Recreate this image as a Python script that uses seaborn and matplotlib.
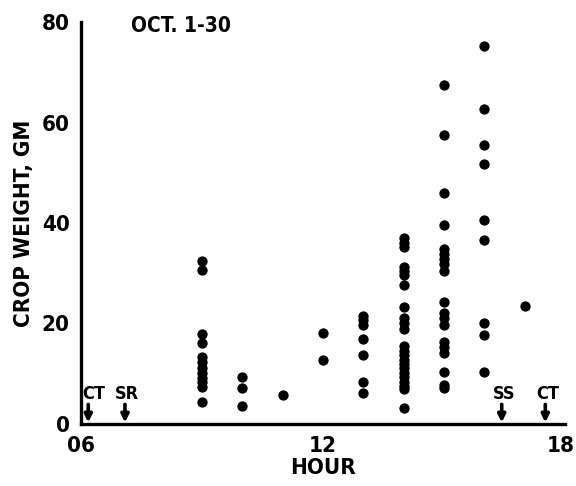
import matplotlib
matplotlib.use("Agg")
import matplotlib.pyplot as plt
from matplotlib import font_manager
from matplotlib.transforms import ScaledTranslation
import numpy as np
import pandas as pd
import seaborn as sns

# ---- data ----
w09 = [32.5, 30.6, 18.0, 16.2, 13.4, 12.3, 11.2, 10.2, 9.2, 8.3, 7.3, 4.3]
w10 = [9.3, 7.1, 3.6]
w11 = [5.8]
w12 = [18.2, 12.8]
w13 = [21.5, 20.6, 19.7, 17.0, 13.7, 8.4, 6.1]
w14 = [37.0, 36.0, 35.2, 31.3, 30.4, 29.6, 27.6, 23.3, 21.0, 20.0, 19.0,
       15.5, 14.6, 13.7, 12.8, 12.0, 11.1, 10.2, 9.3, 8.4, 7.6, 7.0, 3.1]
w15 = [67.4, 57.6, 45.9, 39.6, 34.9, 33.9, 32.9, 31.9, 30.4, 24.3, 22.0,
       21.0, 19.7, 16.4, 15.4, 14.1, 10.4, 7.8, 7.1]
w16 = [75.3, 62.6, 55.6, 51.8, 40.6, 36.6, 20.1, 17.7, 10.4]
w17 = [23.4]
hours = [9, 10, 11, 12, 13, 14, 15, 16, 17]
weights = [w09, w10, w11, w12, w13, w14, w15, w16, w17]

event_labels = ["CT", "SR", "SS", "CT"]
event_hours = [6.18, 7.09, 16.43, 17.51]

xtick_labels = ["06", "12", "18"]
xtick_pos = [6, 12, 18]
ytick_labels = ["0", "20", "40", "60", "80"]
ytick_pos = [0, 20, 40, 60, 80]

df = pd.DataFrame({
    "hour": np.concatenate([[h] * len(w) for h, w in zip(hours, weights)]),
    "weight": np.concatenate(weights),
})

# ---- style ----
sns.set_theme(style="white")
avail = {f.name for f in font_manager.fontManager.ttflist}
cond = [f for f in font_manager.fontManager.ttflist
        if f.name == "DejaVu Sans" and "ondensed" in f.fname]
if "Liberation Sans Narrow" in avail:
    plt.rcParams["font.family"] = ["Liberation Sans Narrow", "DejaVu Sans"]
elif cond:
    plt.rcParams["font.family"] = ["DejaVu Sans"]
    plt.rcParams["font.stretch"] = "condensed"
else:
    plt.rcParams["font.family"] = ["Liberation Sans", "DejaVu Sans"]
plt.rcParams["font.weight"] = "bold"
plt.rcParams["text.color"] = "black"
plt.rcParams["axes.labelcolor"] = "black"
plt.rcParams["xtick.color"] = "black"
plt.rcParams["ytick.color"] = "black"

fig = plt.figure(figsize=(5.76, 4.86), dpi=100)
ax = fig.add_axes([0.1406, 0.1276, 0.981 - 0.1406, 0.9547 - 0.1276])

sns.scatterplot(data=df, x="hour", y="weight", ax=ax, color="black",
                s=55, edgecolor="black", linewidth=0, legend=False, zorder=3)

ax.set_xlim(6, 18)
ax.set_ylim(0, 80)
for side in ["top", "right"]:
    ax.spines[side].set_visible(False)
for side in ["left", "bottom"]:
    ax.spines[side].set_linewidth(2.4)
    ax.spines[side].set_color("black")

ax.set_xticks(xtick_pos)
ax.set_xticklabels(xtick_labels)
ax.set_xticks(np.arange(6, 19, 1), minor=True)
ax.set_yticks(ytick_pos)
ax.set_yticklabels(ytick_labels)
ax.set_yticks(np.arange(0, 81, 10), minor=True)
ax.tick_params(axis="both", which="both", direction="in", color="black",
               labelcolor="black", width=2, labelsize=16)
ax.tick_params(axis="x", which="both", length=7, pad=9)
ax.tick_params(axis="y", which="both", length=9, pad=8)
for lab in ax.get_xticklabels() + ax.get_yticklabels():
    lab.set_fontweight("bold")
last = ax.get_xticklabels()[-1]
last.set_transform(last.get_transform() + ScaledTranslation(-4 / 100, 0, fig.dpi_scale_trans))

ax.set_xlabel("HOUR", fontsize=16, fontweight="bold", labelpad=1, color="black")
ax.set_ylabel("CROP WEIGHT, GM", fontsize=16, fontweight="bold", labelpad=6,
              color="black")

ax.text(7.25, 79.3, "OCT. 1-30", fontsize=15, fontweight="bold",
        ha="left", va="center", color="black")

for lab, hx in zip(event_labels, event_hours):
    tx = hx + 0.13 if hx < 6.5 else hx + 0.05
    ax.text(tx, 5.9, lab, fontsize=13, fontweight="bold",
            ha="center", va="center", color="black")
    ax.annotate("", xy=(hx, 0.3), xytext=(hx, 3.9),
                arrowprops=dict(arrowstyle="-|>", lw=2.6, color="black",
                                mutation_scale=11, shrinkA=0, shrinkB=0))

fig.savefig("out.png", dpi=100)
